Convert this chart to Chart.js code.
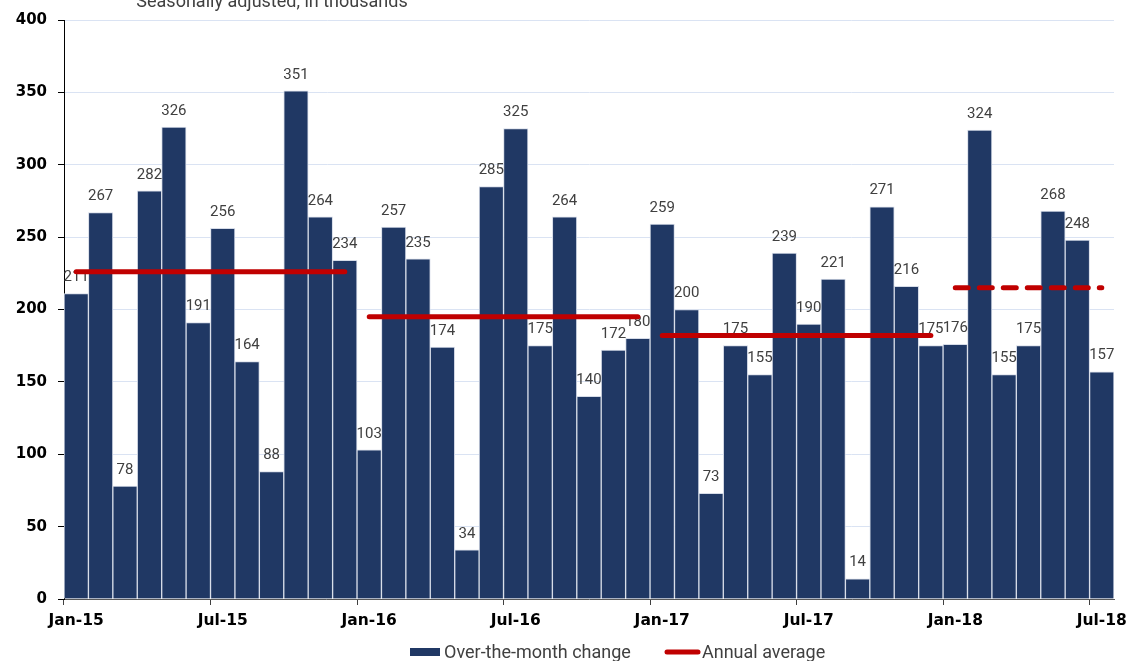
<!DOCTYPE html>
<html><head><meta charset="utf-8">
<script src="https://cdn.jsdelivr.net/npm/chart.js@4.4.1/dist/chart.umd.min.js"></script>
<style>html,body{margin:0;padding:0;background:#fff;overflow:hidden}#wrap{position:absolute;left:0;top:0;width:1137px;height:661px}</style>
</head><body><div id="wrap"><canvas id="c"></canvas></div>
<script>
const months = ['Jan-15','Feb-15','Mar-15','Apr-15','May-15','Jun-15','Jul-15','Aug-15','Sep-15','Oct-15','Nov-15','Dec-15',
  'Jan-16','Feb-16','Mar-16','Apr-16','May-16','Jun-16','Jul-16','Aug-16','Sep-16','Oct-16','Nov-16','Dec-16',
  'Jan-17','Feb-17','Mar-17','Apr-17','May-17','Jun-17','Jul-17','Aug-17','Sep-17','Oct-17','Nov-17','Dec-17',
  'Jan-18','Feb-18','Mar-18','Apr-18','May-18','Jun-18','Jul-18'];
const monthlyChange = [211,267,78,282,326,191,256,164,88,351,264,234,
  103,257,235,174,34,285,325,175,264,140,172,180,
  259,200,73,175,155,239,190,221,14,271,216,175,
  176,324,155,175,268,248,157];
const annualYears = ['15','16','17','18'];
const annualAverage = [226,195,182,215];
const projectedYear = '18';
const shownTickLabels = ['Jan-15','Jul-15','Jan-16','Jul-16','Jan-17','Jul-17','Jan-18','Jul-18'];
const subtitle = 'Seasonally adjusted, in thousands';
const seriesNames = ['Over-the-month change', 'Annual average'];

const yearOf = i => annualYears.indexOf(months[i].slice(-2));
const avgLine = months.map((m, i) => annualAverage[yearOf(i)]);

const NAVY = '#203864', RED = '#C00000', TXT = '#404040';

const extras = {
  id: 'extras',
  afterDatasetDraw(chart, args) {
    if (args.index !== 0) return;
    const ctx = chart.ctx;
    ctx.save();
    ctx.font = '15px Roboto';
    ctx.fillStyle = TXT;
    ctx.textAlign = 'center';
    ctx.textBaseline = 'middle';
    args.meta.data.forEach((el, i) => {
      ctx.fillText(String(monthlyChange[i]), el.x, el.y - 16);
    });
    ctx.restore();
  },
  afterDraw(chart) {
    const ctx = chart.ctx;
    ctx.save();
    // subtitle (clipped at the top as in the source)
    ctx.font = '18px Roboto';
    ctx.fillStyle = TXT;
    ctx.textAlign = 'center';
    ctx.textBaseline = 'alphabetic';
    ctx.fillText(subtitle, 272, 7);
    // legend
    const ly = 652;
    ctx.fillStyle = NAVY;
    ctx.fillRect(410, ly - 4, 30, 8);
    ctx.font = '18px Roboto';
    ctx.fillStyle = TXT;
    ctx.textAlign = 'left';
    ctx.textBaseline = 'middle';
    ctx.fillText(seriesNames[0], 444, ly + 1);
    ctx.strokeStyle = RED;
    ctx.lineWidth = 5;
    ctx.lineCap = 'round';
    ctx.beginPath();
    ctx.moveTo(667, ly);
    ctx.lineTo(698, ly);
    ctx.stroke();
    ctx.fillText(seriesNames[1], 702, ly + 1);
    ctx.restore();
  }
};

new Chart(document.getElementById('c'), {
  data: {
    labels: months,
    datasets: [
      { type: 'bar', label: seriesNames[0], data: monthlyChange,
        backgroundColor: NAVY, borderColor: '#d6dce8', borderWidth: 1,
        barPercentage: 1, categoryPercentage: 1, order: 2 },
      { type: 'line', label: seriesNames[1], data: avgLine,
        borderColor: RED, borderWidth: 5, borderCapStyle: 'round', pointRadius: 0,
        pointHoverRadius: 0, tension: 0, order: 1,
        segment: {
          borderColor: c => yearOf(c.p0DataIndex) !== yearOf(c.p1DataIndex) ? 'rgba(0,0,0,0)' : undefined,
          borderDash: c => months[c.p0DataIndex].slice(-2) === projectedYear ? [13, 11] : undefined
        } }
    ]
  },
  options: {
    responsive: true, maintainAspectRatio: false, animation: false,
    layout: { padding: { top: 18, right: 23, left: 0, bottom: 22 } },
    plugins: {
      tooltip: { enabled: false },
      legend: { display: false }
    },
    scales: {
      x: {
        offset: true,
        afterFit: s => { s.height = 40; },
        grid: { offset: true, drawOnChartArea: false, tickLength: 6,
          tickColor: c => (c.index % 6 === 0) ? '#404040' : 'rgba(0,0,0,0)' },
        border: { color: '#595959', width: 1 },
        ticks: { autoSkip: false, maxRotation: 0, minRotation: 0, padding: 7, color: '#000',
          font: { family: '"DejaVu Sans"', size: 15.5, weight: 'bold' },
          callback: (v, i) => shownTickLabels.includes(months[i]) ? months[i] : '' }
      },
      y: {
        min: 0, max: 400,
        afterFit: s => { s.width = 64; },
        grid: { color: '#dae3f3', tickColor: '#000', tickLength: 6 },
        border: { color: '#000', width: 1 },
        ticks: { stepSize: 50, padding: 11, color: '#000',
          font: { family: '"DejaVu Sans"', size: 15, weight: 'bold' } }
      }
    }
  },
  plugins: [extras]
});
</script></body></html>
